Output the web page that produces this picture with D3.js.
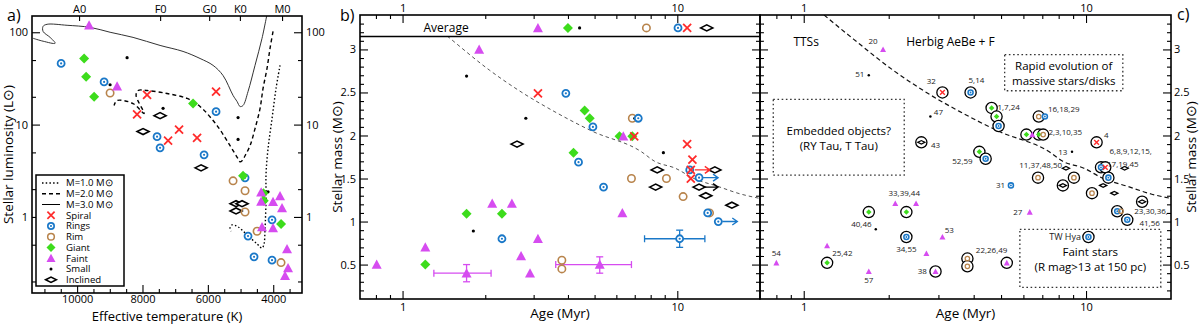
<!DOCTYPE html>
<html>
<head>
<meta charset="utf-8">
<script src="https://cdn.jsdelivr.net/npm/d3@7"></script>
<style>
  body { margin: 0; background: #fff; }
  svg { font-family: "Open Sans", sans-serif; }
</style>
</head>
<body>
<svg id="chart" width="1200" height="324"></svg>
<script>
// ---------- Panel a: HR diagram (Teff [K], L [Lsun]) ----------
const specLabels = ["A0", "F0", "G0", "K0", "M0"];
const specTeff = [9940, 7460, 5960, 5020, 3730];
const teffTicks = [10000, 8000, 6000, 4000];
const lumTicks = [1, 10, 100];

// evolutionary tracks
const track1 = [[3792,43.8],[3914,24.6],[4037,11.6],[4159,5.48],[4220,2.93],[4220,1.57],[4251,0.74],[4282,0.51],[4343,0.46],[4495,0.51],[4801,0.64],[5076,0.78],[5260,0.82],[5321,0.76],[5290,0.70]];
const track2 = [[4006,102],[4098,67],[4190,40.6],[4312,24.6],[4404,14.9],[4557,9.05],[4710,5.91],[4862,4.6],[4954,4.06],[5015,3.96],[5076,4.27],[5321,5.91],[5719,9.75],[6239,15.7],[6636,19.2],[7248,21.7],[7859,23.4],[8135,23.4],[8196,20.7],[7951,13.2],[8288,16.9],[8777,18.2],[8869,16.1]];
const track3 = [[4190,157],[4343,86],[4557,43.8],[4771,22.8],[4924,16.1],[5015,15.7],[5107,17.8],[5229,20.7],[5535,34],[5841,43.8],[6239,52],[6759,62],[7462,72],[8288,88],[8991,100],[9602,113],[10306,119],[10917,122],[11040,116],[11040,102],[10826,88],[10673,76],[11040,80],[11346,86]];

const hrSpiral = [[7860,21],[8165,12.9],[6881,8.8],[6330,7.2],[7217,6.7],[5749,22.7]];
const hrRings = [[10489,46],[9174,29],[7554,7.4],[7462,5.6],[5749,13.8],[6116,4.7],[4862,2.65],[4037,0.93],[4771,0.62],[4587,0.37],[4037,0.34]];
const hrRim = [[8991,22],[5229,2.46],[4862,1.92],[4862,1.13],[4495,0.70],[3761,0.32]];
const hrGiant = [[9786,52],[9725,33],[9480,20],[6453,16.9],[4924,2.79],[4300,1.80],[4290,1.50],[3761,0.84]];
const hrFaint = [[9633,119],[8777,26],[4370,1.85],[4370,1.47],[3792,1.69],[4006,1.46],[3731,1.25],[4343,0.78],[4006,0.76],[3578,0.45],[3547,0.28],[3639,0.23]];
const hrSmall = [[8471,53],[8991,27],[7370,15],[5076,11.9],[5076,6.9],[4159,1.87]];
const hrInclined = [[7462,12.5],[7982,8.4],[6208,3.4],[5138,1.39],[4954,1.39],[5138,1.16]];

// ---------- Panel b: age [Myr] vs mass [Msun] ----------
const ageTicks = [1, 10];
const massTicks = [0.5, 1, 1.5, 2, 2.5, 3];
const avgClasses = ["faint", "giant", "small", "rim", "rings", "spiral", "inclined"];
const avgAges = [3.11, 4.0, 4.41, 7.72, 10.06, 10.86, 12.8];

const bSpiral = [[3.11,2.49],[6.97,1.99],[10.86,1.90],[11.35,1.72],[11.2,1.60],[11.2,1.50]];
const bRings = [[3.93,2.49],[4.93,2.10],[7.21,2.20],[4.37,1.69],[5.39,1.40],[11.1,1.60],[12.0,1.51],[12.9,1.10],[14.1,1.0],[2.30,0.80]];
const bRim = [[6.86,2.20],[6.81,1.50],[9.13,1.50],[10.5,1.29],[13.1,1.10],[3.80,0.55],[3.80,0.45]];
const bGiant = [[4.6,2.29],[4.8,2.20],[6.16,1.99],[6.86,1.99],[4.19,1.80],[2.30,1.09],[1.71,1.09],[1.21,0.50]];
const bFaint = [[1.90,3.0],[6.36,1.99],[2.12,1.21],[2.50,1.21],[6.31,1.10],[3.11,0.80],[2.70,0.60],[2.91,0.40],[0.805,0.50],[1.21,0.70]];
const bSmall = [[1.71,2.69],[3.97,2.49],[2.81,2.20],[7.0,2.20],[8.90,1.80],[1.81,0.89]];
const bInclined = [[2.61,1.90],[8.45,1.60],[13.7,1.60],[8.34,1.40],[12.0,1.40],[12.7,1.30],[15.8,1.19]];
// lower limits on age: [class, age, mass]
const bLimits = [["spiral",11.2,1.60],["rings",12.0,1.51],["rings",14.1,1.0],["inclined",12.0,1.40]];
// error bars: [class, age, mass, ageLo, ageHi, massLo, massHi]
const bErrors = [["faint",1.71,0.40,1.30,2.10,0.30,0.50],["faint",5.22,0.50,3.61,6.81,0.40,0.59],["rings",10.2,0.80,7.6,12.6,0.70,0.90]];
// mass-age trend (dashed)
const massTrend = [[1.18,3.40],[1.50,3.12],[2.07,2.76],[2.72,2.50],[3.56,2.28],[4.9,2.05],[7.41,1.81],[8.27,1.70],[9.83,1.62],[11.5,1.50],[14.0,1.41],[17.0,1.32],[19.9,1.27]];

// ---------- Panel c: same plane with star IDs ----------
// [class, age, mass, circled]
const cStars = [
  ["faint",1.91,3.0,0],["small",1.70,2.70,0],["spiral",3.10,2.50,1],["rings",3.90,2.50,1],
  ["small",2.81,2.22,0],["inclined",2.61,1.92,1],["giant",4.63,2.32,1],["giant",4.82,2.22,1],
  ["rings",4.90,2.11,1],["rim",6.80,2.22,1],["rings",7.15,2.22,0],["giant",6.15,2.01,1],
  ["faint",6.45,2.01,0],["giant",6.80,2.01,1],["rim",7.05,2.01,1],["small",8.92,1.81,0],
  ["spiral",10.9,1.92,1],["giant",4.19,1.81,1],["rings",4.41,1.73,1],["inclined",8.49,1.62,0],
  ["rings",11.3,1.63,1],["spiral",11.7,1.63,1],["rings",12.0,1.51,1],["inclined",13.7,1.62,0],
  ["rim",6.76,1.51,1],["rim",9.06,1.51,1],["rings",5.42,1.42,0],["inclined",8.28,1.42,1],
  ["inclined",11.5,1.42,0],["rim",10.5,1.33,1],["inclined",12.6,1.33,0],["inclined",15.8,1.23,1],
  ["faint",6.32,1.11,0],["rings",12.9,1.12,1],["rim",13.3,1.12,0],["rings",14.0,1.02,1],
  ["rings",10.2,0.82,1],["faint",2.11,1.21,0],["faint",2.50,1.21,0],["giant",1.70,1.11,1],
  ["giant",2.31,1.11,1],["small",1.80,0.91,0],["rings",2.31,0.82,1],["faint",3.10,0.82,0],
  ["faint",2.72,0.63,0],["faint",0.80,0.52,0],["faint",1.21,0.72,0],["giant",1.21,0.52,1],
  ["faint",1.70,0.42,0],["faint",2.93,0.42,1],["rim",3.80,0.57,1],["rim",3.80,0.48,1],
  ["faint",5.24,0.52,1]
];
const cLabels = [
  ["20",1.76,3.10],["51",1.58,2.71],["32",2.83,2.63],["5,14",4.09,2.65],["47",3.00,2.27],["43",2.93,1.89],
  ["1,7,24",5.32,2.33],["16,18,29",8.34,2.31],["2,3,10,35",8.44,2.04],["13",8.27,1.81],["4",11.8,2.0],
  ["6,8,9,12,15,",14.4,1.82],["17,19,45",13.5,1.67],["52,59",3.65,1.70],["11,37,48,50",6.91,1.66],
  ["31",4.98,1.42],["27",5.73,1.11],["23,30,36,",17.0,1.12],["41,56",16.8,0.98],["TW Hya",8.43,0.82],
  ["33,39,44",2.27,1.33],["40,46",1.60,0.97],["34,55",2.31,0.68],["53",3.28,0.90],["54",0.80,0.64],
  ["25,42",1.37,0.63],["57",1.70,0.32],["38",2.63,0.42],["22,26,49",4.63,0.67]
];
const cNotes = [["TTSs",1.02,3.09],["Herbig AeBe + F",3.31,3.09]];
const cBoxes = [
  {age: [0.78, 2.27], mass: [2.42, 1.54], lines: ["Embedded objects?", "(RY Tau, T Tau)"]},
  {age: [5.15, 13.5], mass: [2.94, 2.52], lines: ["Rapid evolution of", "massive stars/disks"]},
  {age: [5.83, 18.4], mass: [0.91, 0.235], lines: ["Faint stars", "(R mag>13 at 150 pc)"]}
];

// ================= drawing =================
const svg = d3.select("#chart");
const COL = {spiral: "#ff2b2b", rings: "#1a78c8", rim: "#b8844c", giant: "#3ddc1c", faint: "#d64cf0", small: "#000", inclined: "#000"};

function marker(g, cls, x, y, s = 1) {
  const m = g.append("g").attr("transform", `translate(${x},${y})`);
  const sw = Math.sqrt(s);
  if (cls === "spiral") {
    const r = 4 * s;
    m.append("path").attr("d", `M${-r},${-r}L${r},${r}M${-r},${r}L${r},${-r}`)
      .attr("stroke", COL.spiral).attr("stroke-width", 1.8 * sw).attr("fill", "none");
  } else if (cls === "rings") {
    m.append("circle").attr("r", 3.5 * s).attr("fill", "#fff").attr("stroke", COL.rings).attr("stroke-width", 1.8 * sw);
    m.append("circle").attr("r", 1.1 * sw).attr("fill", COL.rings);
  } else if (cls === "rim") {
    m.append("circle").attr("r", 3.7 * s).attr("fill", "none").attr("stroke", COL.rim).attr("stroke-width", 1.6 * sw);
  } else if (cls === "giant") {
    const r = 5 * s;
    m.append("path").attr("d", `M0,${-r}L${r},0L0,${r}L${-r},0Z`).attr("fill", COL.giant);
  } else if (cls === "faint") {
    const r = 5 * s;
    m.append("path").attr("d", `M0,${-r}L${r},${0.85 * r}L${-r},${0.85 * r}Z`).attr("fill", COL.faint);
  } else if (cls === "small") {
    m.append("circle").attr("r", 1.6 * sw).attr("fill", "#000");
  } else if (cls === "inclined") {
    const w = 6 * s, h = 3 * s;
    m.append("path").attr("d", `M${-w},0L0,${-h}L${w},0L0,${h}Z`)
      .attr("fill", "#fff").attr("stroke", "#000").attr("stroke-width", 1.6 * sw);
  }
}

function axis(gen, values, size, fmt, pad, tx, ty, fs = 11) {
  const a = svg.append("g").attr("transform", `translate(${tx},${ty})`)
    .call(gen.tickValues(values).tickSize(size).tickPadding(pad).tickFormat(fmt));
  a.select(".domain").remove();
  a.selectAll("line").attr("stroke", "#000").attr("stroke-width", 1.1);
  a.selectAll("text").attr("font-size", fs).attr("font-family", "Open Sans").attr("fill", "#000");
  return a;
}

function frame(x0, y0, x1, y1) {
  svg.append("rect").attr("x", x0).attr("y", y0).attr("width", x1 - x0).attr("height", y1 - y0)
    .attr("fill", "none").attr("stroke", "#000").attr("stroke-width", 1.6);
}

function label(text, x, y, opt = {}) {
  const t = svg.append("text").attr("x", x).attr("y", y).text(text)
    .attr("font-size", opt.size || 13).attr("text-anchor", opt.anchor || "middle").attr("fill", "#000");
  if (opt.rotate) t.attr("x", 0).attr("y", 0).attr("transform", `translate(${x},${y}) rotate(${opt.rotate})`);
  return t;
}

function clip(id, x, y, w, h) {
  svg.append("clipPath").attr("id", id).append("rect").attr("x", x).attr("y", y).attr("width", w).attr("height", h);
}

const noFmt = () => "";
const numFmt = d => String(d);

// ---------- panel a ----------
const A = {l: 32, r: 302, t: 16, b: 293};
const xA = d3.scaleLinear().domain([11380, 3120]).range([A.l, A.r]);
const yA = d3.scaleLog().domain([0.15, 150]).range([A.b, A.t]);
clip("clipA", A.l, A.t, A.r - A.l, A.b - A.t);

const teffMinor = d3.range(3500, 11500, 500).filter(v => !teffTicks.includes(v));
const lumMinor = [0.2, 0.5, 2, 5, 20, 50];
axis(d3.axisBottom(xA), teffMinor, -4, noFmt, 2, 0, A.b);
axis(d3.axisBottom(xA), teffTicks, -8, numFmt, 2, 0, A.b);
axis(d3.axisTop(xA), specTeff, -5, (d, i) => specLabels[i], 3, 0, A.t);
axis(d3.axisLeft(yA), lumMinor, -4, noFmt, 4, A.l, 0);
axis(d3.axisLeft(yA), lumTicks, -8, numFmt, 4, A.l, 0);
axis(d3.axisRight(yA), lumMinor, -4, noFmt, 4, A.r, 0);
axis(d3.axisRight(yA), lumTicks, -8, numFmt, 4, A.r, 0);

const trackLine = d3.line().x(d => xA(d[0])).y(d => yA(d[1])).curve(d3.curveCatmullRom.alpha(0.5));
const tracks = svg.append("g").attr("clip-path", "url(#clipA)").attr("fill", "none").attr("stroke", "#000");
tracks.append("path").datum(track1).attr("d", trackLine).attr("stroke-width", 1.4).attr("stroke-dasharray", "1.5,2.2");
tracks.append("path").datum(track2).attr("d", trackLine).attr("stroke-width", 1.4).attr("stroke-dasharray", "4,3");
tracks.append("path").datum(track3).attr("d", trackLine).attr("stroke-width", 1).attr("stroke", "#333");

const gA = svg.append("g");
[["inclined", hrInclined], ["small", hrSmall], ["rim", hrRim], ["rings", hrRings], ["giant", hrGiant], ["faint", hrFaint], ["spiral", hrSpiral]]
  .forEach(([cls, pts]) => pts.forEach(p => marker(gA, cls, xA(p[0]), yA(p[1]))));

// legend
const leg = svg.append("g");
leg.append("rect").attr("x", 36).attr("y", 175).attr("width", 88).attr("height", 111)
  .attr("fill", "#fff").attr("stroke", "#000").attr("stroke-width", 1.5);
const legItems = [
  ["line", "1.5,2.2", "M=1.0 M\u2299"], ["line", "4,3", "M=2.0 M\u2299"], ["line", null, "M=3.0 M\u2299"],
  ["spiral", null, "Spiral"], ["rings", null, "Rings"], ["rim", null, "Rim"], ["giant", null, "Giant"],
  ["faint", null, "Faint"], ["small", null, "Small"], ["inclined", null, "Inclined"]
];
legItems.forEach(([kind, dash, text], i) => {
  const y = 183 + i * 10.75;
  if (kind === "line") {
    const l = leg.append("line").attr("x1", 42).attr("x2", 60).attr("y1", y).attr("y2", y)
      .attr("stroke", "#000").attr("stroke-width", dash ? 1.4 : 1);
    if (dash) l.attr("stroke-dasharray", dash);
  } else {
    marker(leg, kind, 51, y, 0.9);
  }
  leg.append("text").attr("x", 66).attr("y", y + 3.4).attr("font-size", 9.6).text(text);
});

frame(A.l, A.t, A.r, A.b);
label("a)", 7, 21, {size: 16, anchor: "start"});
label("Effective temperature (K)", (A.l + A.r) / 2, 321, {size: 13});
label("Stellar luminosity (L\u2299)", 13, (A.t + A.b) / 2, {size: 13.5, rotate: -90});

// ---------- shared mass-age axes ----------
const B = {l: 360, r: 760, t: 15, b: 299};
const Cp = {l: 760, r: 1171, t: 15, b: 299};
const yM = d3.scaleLinear().domain([0.1, 3.4]).range([B.b, B.t]);
const xB = d3.scaleLog().domain([0.7, 20]).range([B.l, B.r]);
const xC = d3.scaleLog().domain([0.7, 20]).range([Cp.l, Cp.r]);
const ageMinor = [0.8, 0.9, 2, 3, 4, 5, 6, 7, 8, 9];
const massMinor = d3.range(2, 34).map(i => i / 10).filter(v => Math.abs(v * 2 - Math.round(v * 2)) > 1e-6);

[[xB, B], [xC, Cp]].forEach(([xs, P]) => {
  axis(d3.axisBottom(xs), ageMinor, -4, noFmt, 4, 0, P.b);
  axis(d3.axisBottom(xs), ageTicks, -8, numFmt, 4, 0, P.b);
  axis(d3.axisTop(xs), ageMinor, -4, noFmt, 3, 0, P.t);
  axis(d3.axisTop(xs), ageTicks, -8, numFmt, 3, 0, P.t);
});
axis(d3.axisLeft(yM), massMinor, -4, noFmt, 4, B.l, 0);
axis(d3.axisLeft(yM), massTicks, -8, numFmt, 4, B.l, 0);
axis(d3.axisRight(yM), massMinor, -4, noFmt, 4, B.r, 0);
axis(d3.axisRight(yM), massTicks, -8, noFmt, 4, B.r, 0);
axis(d3.axisLeft(yM), massMinor, -4, noFmt, 4, Cp.l, 0);
axis(d3.axisLeft(yM), massTicks, -8, noFmt, 4, Cp.l, 0);
axis(d3.axisRight(yM), massMinor, -4, noFmt, 3, Cp.r, 0);
axis(d3.axisRight(yM), massTicks, -8, numFmt, 3, Cp.r, 0);

// ---------- panel b ----------
const avgLine = 3.15, avgRow = 3.25;
clip("clipB", B.l, yM(avgLine), B.r - B.l, B.b - yM(avgLine));
clip("clipC", Cp.l, Cp.t, Cp.r - Cp.l, Cp.b - Cp.t);

const trendB = d3.line().x(d => xB(d[0])).y(d => yM(d[1])).curve(d3.curveMonotoneX);
svg.append("path").datum(massTrend).attr("clip-path", "url(#clipB)").attr("d", trendB)
  .attr("fill", "none").attr("stroke", "#555").attr("stroke-width", 1).attr("stroke-dasharray", "3.5,3");

svg.append("line").attr("x1", B.l).attr("x2", B.r).attr("y1", yM(avgLine)).attr("y2", yM(avgLine))
  .attr("stroke", "#000").attr("stroke-width", 1.3);
label("Average", xB(1.44), yM(avgRow) + 4, {size: 12});

const gB = svg.append("g");
avgClasses.forEach((cls, i) => marker(gB, cls, xB(avgAges[i]), yM(avgRow)));

// error bars
bErrors.forEach(([cls, age, m, a0, a1, m0, m1]) => {
  const e = gB.append("g").attr("stroke", COL[cls]).attr("stroke-width", 1.3);
  const x = xB(age), y = yM(m);
  e.append("line").attr("x1", xB(a0)).attr("x2", xB(a1)).attr("y1", y).attr("y2", y);
  e.append("line").attr("x1", x).attr("x2", x).attr("y1", yM(m0)).attr("y2", yM(m1));
  [[xB(a0), y, 0], [xB(a1), y, 0], [x, yM(m0), 1], [x, yM(m1), 1]].forEach(([cx, cy, vert]) => {
    if (vert) e.append("line").attr("x1", cx - 3.5).attr("x2", cx + 3.5).attr("y1", cy).attr("y2", cy);
    else e.append("line").attr("x1", cx).attr("x2", cx).attr("y1", cy - 3.5).attr("y2", cy + 3.5);
  });
});

[["inclined", bInclined], ["small", bSmall], ["rim", bRim], ["rings", bRings], ["giant", bGiant], ["faint", bFaint], ["spiral", bSpiral]]
  .forEach(([cls, pts]) => pts.forEach(p => marker(gB, cls, xB(p[0]), yM(p[1]))));
bErrors.forEach(([cls, age, m]) => marker(gB, cls, xB(age), yM(m)));

// lower-limit arrows
bLimits.forEach(([cls, age, m]) => {
  const x0 = xB(age) + 4, x1 = xB(age) + 19, y = yM(m);
  const col = cls === "inclined" ? "#000" : COL[cls];
  gB.append("path").attr("d", `M${x0},${y}L${x1},${y}M${x1 - 5},${y - 3.5}L${x1},${y}L${x1 - 5},${y + 3.5}`)
    .attr("fill", "none").attr("stroke", col).attr("stroke-width", 1.4);
});

frame(B.l, B.t, B.r, B.b);
label("b)", 340, 21, {size: 16, anchor: "start"});
label("Age (Myr)", (B.l + B.r) / 2, 318, {size: 13.5});
label("Stellar mass (M\u2299)", 342, (B.t + B.b) / 2, {size: 13.5, rotate: -90});

// ---------- panel c ----------
const trendC = d3.line().x(d => xC(d[0])).y(d => yM(d[1])).curve(d3.curveMonotoneX);
svg.append("path").datum(massTrend).attr("clip-path", "url(#clipC)").attr("d", trendC)
  .attr("fill", "none").attr("stroke", "#111").attr("stroke-width", 1.2).attr("stroke-dasharray", "4.5,3");

const gC = svg.append("g");
cBoxes.forEach(b => {
  const x0 = xC(b.age[0]), x1 = xC(b.age[1]), y0 = yM(b.mass[0]), y1 = yM(b.mass[1]);
  gC.append("rect").attr("x", x0).attr("y", y0).attr("width", x1 - x0).attr("height", y1 - y0)
    .attr("fill", "none").attr("stroke", "#333").attr("stroke-width", 1.3).attr("stroke-dasharray", "1.6,2.6");
  b.lines.forEach((t, i) => {
    gC.append("text").attr("x", (x0 + x1) / 2).attr("y", (y0 + y1) / 2 + (i - 0.5) * 15 + 5)
      .attr("text-anchor", "middle").attr("font-size", 11.5).text(t);
  });
});
cNotes.forEach(([t, age, m]) => gC.append("text").attr("x", xC(age)).attr("y", yM(m) + 4)
  .attr("text-anchor", "middle").attr("font-size", 12).text(t));

cStars.filter(d => d[3]).forEach(([cls, age, m]) =>
  gC.append("circle").attr("cx", xC(age)).attr("cy", yM(m)).attr("r", 5.6)
    .attr("fill", "#fff").attr("stroke", "#000").attr("stroke-width", 1.3));
cStars.forEach(([cls, age, m]) => {
  const s = cls === "rings" ? 0.72 : cls === "giant" ? 0.55 : 0.6;
  marker(gC, cls, xC(age), yM(m), s);
});
cLabels.forEach(([t, age, m]) => gC.append("text").attr("x", xC(age)).attr("y", yM(m) + 3)
  .attr("text-anchor", "middle").attr("font-size", t === "TW Hya" ? 9 : 8).attr("fill", "#222").text(t));

frame(Cp.l, Cp.t, Cp.r, Cp.b);
label("c)", 1177, 20, {size: 16, anchor: "start"});
label("Age (Myr)", (Cp.l + Cp.r) / 2, 318, {size: 13.5});
label("Stellar mass (M\u2299)", 1196, (Cp.t + Cp.b) / 2, {size: 13.5, rotate: -90});
</script>
</body>
</html>
